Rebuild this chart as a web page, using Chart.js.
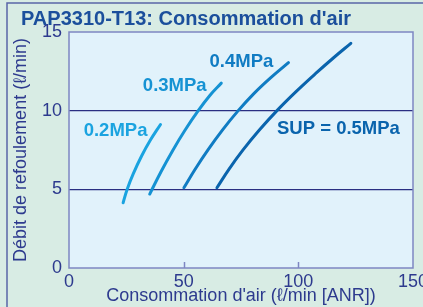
<!DOCTYPE html>
<html>
<head>
<meta charset="utf-8">
<script src="https://cdn.jsdelivr.net/npm/chart.js@4/dist/chart.umd.min.js"></script>
<style>
    html, body { margin: 0; padding: 0; background: #d8ece4; }
    #wrap { position: relative; width: 423px; height: 307px; }
    canvas { display: block; }
</style>
</head>
<body>
<div id="wrap"><canvas id="graphic__air" width="423" height="307"></canvas></div>
<script>
// curves: air consumption (x) vs flow (y)
const xSup02 = [23.6, 25.3, 28.0, 31.6, 35.5, 39.9];
const ySup02 = [4.15, 4.98, 5.98, 7.1, 8.13, 9.12];
const xSup03 = [35.2, 40.0, 45.3, 50.5, 56.2, 61.5, 66.4];
const ySup03 = [4.7, 6.09, 7.49, 8.74, 9.97, 10.98, 11.75];
const xSup04 = [50.1, 55.0, 60.6, 66.8, 73.6, 80.5, 88.0, 95.7];
const ySup04 = [5.1, 6.28, 7.51, 8.75, 9.97, 11.07, 12.1, 13.05];
const xSup05 = [64.5, 69.8, 75.8, 83.0, 91.0, 99.0, 107.7, 115.5, 122.9];
const ySup05 = [5.1, 6.29, 7.49, 8.77, 10.05, 11.21, 12.38, 13.38, 14.28];

const curveNames = ['0.2MPa', '0.3MPa', '0.4MPa', 'SUP = 0.5MPa'];
const curveColors = ['#1aa3e0', '#1592d3', '#107cc3', '#0a64ad'];
// where each curve name sits, in data units
const labelX = [20.3, 46.1, 75.2, 117.5];
const labelY = [8.7, 11.57, 13.1, 8.85];

const xTicks = [0, 50, 100, 150];
const yTicks = [0, 5, 10, 15];
const yGridLines = [5, 10];

const toPoints = (xs, ys) => {
    const pts = [];
    for (let i = 0; i < xs.length; i++) {
        pts.push({ x: xs[i], y: ys[i] });
    }
    return pts;
};
const series = [
    toPoints(xSup02, ySup02),
    toPoints(xSup03, ySup03),
    toPoints(xSup04, ySup04),
    toPoints(xSup05, ySup05),
];

const navy = '#2d3a8e';

// plot background, frame and inner tick marks
const plotDeco = {
    id: 'plotDeco',
    beforeDraw(chart) {
        const { ctx, chartArea: a } = chart;
        ctx.save();
        // outer frame of the figure
        ctx.strokeStyle = '#5865a6';
        ctx.lineWidth = 1.5;
        ctx.strokeRect(7, 3, 430, 320);
        ctx.fillStyle = '#e1f2fb';
        ctx.fillRect(a.left, a.top, a.right - a.left, a.bottom - a.top);
        ctx.restore();
    },
    afterDatasetsDraw(chart) {
        const { ctx, chartArea: a, scales } = chart;
        ctx.save();
        ctx.strokeStyle = '#7e86c2';
        ctx.lineWidth = 1.5;
        ctx.strokeRect(a.left, a.top, a.right - a.left, a.bottom - a.top);
        ctx.beginPath();
        xTicks.slice(1, -1).forEach((v) => {
            const px = Math.round(scales.x.getPixelForValue(v)) + 0.5;
            ctx.moveTo(px, a.bottom);
            ctx.lineTo(px, a.bottom - 6);
        });
        ctx.stroke();

        ctx.font = 'bold 18.5px "Liberation Sans", Arial, sans-serif';
        ctx.textAlign = 'center';
        ctx.textBaseline = 'middle';
        curveNames.forEach((name, i) => {
            ctx.fillStyle = curveColors[i];
            ctx.fillText(name, scales.x.getPixelForValue(labelX[i]), scales.y.getPixelForValue(labelY[i]));
        });

        ctx.font = 'bold 20px "Liberation Sans", Arial, sans-serif';
        ctx.textAlign = 'left';
        ctx.fillStyle = '#1b4f9c';
        ctx.fillText("PAP3310-T13: Consommation d'air", 21, 19);
        ctx.restore();
    }
};

const ctx = document.querySelector('#graphic__air').getContext('2d');

const config = {
    type: 'line',
    data: {
        datasets: series.map((pts, i) => ({
            label: curveNames[i],
            data: pts,
            borderColor: curveColors[i],
            borderWidth: 3,
            pointRadius: 0,
            borderCapStyle: 'round',
            tension: 0.4,
            fill: false,
        }))
    },
    options: {
        responsive: false,
        animation: false,
        layout: {
            padding: { left: 0, top: 32, right: 10, bottom: 0 }
        },
        plugins: {
            legend: { display: false },
            tooltip: { enabled: false },
        },
        scales: {
            x: {
                type: 'linear',
                min: 0,
                max: 150,
                afterBuildTicks: (scale) => {
                    scale.ticks = xTicks.map((v) => ({ value: v }));
                },
                afterFit: (scale) => {
                    scale.height = 39;
                    scale.paddingLeft = 0;
                    scale.paddingRight = 0;
                },
                grid: { display: false, drawTicks: false },
                border: { display: false },
                ticks: {
                    color: navy,
                    padding: 3,
                    maxRotation: 0,
                    font: { size: 18, family: '"Liberation Sans", Arial, sans-serif' },
                },
                title: {
                    display: true,
                    text: 'Consommation d\'air (ℓ/min [ANR])',
                    color: navy,
                    padding: { top: -3, bottom: 0 },
                    font: { size: 18, family: '"Liberation Sans", Arial, sans-serif' },
                },
            },
            y: {
                type: 'linear',
                min: 0,
                max: 15,
                afterBuildTicks: (scale) => {
                    scale.ticks = yTicks.map((v) => ({ value: v }));
                },
                afterFit: (scale) => {
                    scale.width = 69;
                    scale.paddingTop = 0;
                    scale.paddingBottom = 0;
                },
                grid: {
                    drawTicks: false,
                    color: (c) => yGridLines.includes(c.tick && c.tick.value) ? '#2a2f82' : 'transparent',
                    lineWidth: 1.2,
                },
                border: { display: false },
                ticks: {
                    color: navy,
                    padding: 7,
                    font: { size: 18, family: '"Liberation Sans", Arial, sans-serif' },
                },
                title: {
                    display: true,
                    text: 'Débit de refoulement (ℓ/min)',
                    color: navy,
                    padding: { top: 10, bottom: 0 },
                    font: { size: 18, family: '"Liberation Sans", Arial, sans-serif' },
                },
            },
        }
    },
    plugins: [plotDeco]
};

const airChart = new Chart(ctx, config);
</script>
</body>
</html>
